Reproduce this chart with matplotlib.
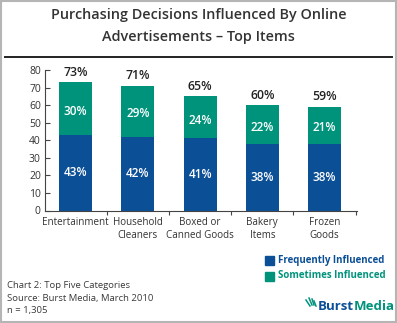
import matplotlib.pyplot as plt
from matplotlib.patches import Rectangle
from matplotlib.lines import Line2D

plt.rcParams['font.family'] = ['Open Sans', 'DejaVu Sans']

categories = ['Entertainment', 'Household\nCleaners', 'Boxed or\nCanned Goods',
              'Bakery\nItems', 'Frozen\nGoods']
frequently = [43, 42, 41, 38, 38]
sometimes = [30, 29, 24, 22, 21]
totals = [73, 71, 65, 60, 59]

blue = '#0b4f97'
teal = '#00937c'
dark = '#333333'

W, H = 397, 323
fig = plt.figure(figsize=(W / 100, H / 100), dpi=100)

# pixel helpers (origin top-left)
def fx(px):
    return px / W

def fy(py):
    return 1 - py / H

# outer frame
fig.patches.append(Rectangle((0.002, 0.003), 0.996, 0.994, transform=fig.transFigure,
                             fill=False, edgecolor='#b5b5b5', linewidth=1.5))

fig.text(0.5, fy(15), 'Purchasing Decisions Influenced By Online', ha='center', va='center',
         fontsize=10.4, fontweight='semibold', color=dark)
fig.text(0.5, fy(37), 'Advertisements \u2013 Top Items', ha='center', va='center',
         fontsize=10.4, fontweight='semibold', color=dark)
fig.add_artist(Line2D([fx(5), fx(392)], [fy(57), fy(57)], transform=fig.transFigure,
                      color='#222222', linewidth=1.4))

ax = fig.add_axes([fx(45), fy(210.5), fx(357) - fx(45), fy(70) - fy(210.5)])
x = list(range(len(categories)))
ax.bar(x, frequently, width=0.53, color=blue)
ax.bar(x, sometimes, bottom=frequently, width=0.53, color=teal)

for i in x:
    ax.text(i, frequently[i] / 2, f'{frequently[i]}%', ha='center', va='center',
            color='white', fontsize=8.5, fontweight='semibold')
    ax.text(i, frequently[i] + sometimes[i] / 2 - 1.5, f'{sometimes[i]}%', ha='center',
            va='center', color='white', fontsize=8.5, fontweight='semibold')
    ax.text(i, totals[i] + 2, f'{totals[i]}%', ha='center', va='bottom',
            color='#222222', fontsize=8.8, fontweight='semibold')

ax.set_xlim(-0.49, 4.52)
ax.set_ylim(0, 80)
ax.set_yticks(range(0, 81, 10))
ax.set_xticks([i + 0.5 for i in x])
ax.set_xticklabels([])
ax.set_xticks(x, minor=True)
ax.set_xticklabels(categories, minor=True, fontsize=7.1, color=dark, linespacing=1.2)
ax.minorticklabels = ax.get_xticklabels(minor=True)
ax.minorticklabels[0].set_x(-0.1)
ax.tick_params(axis='x', which='minor', length=0, pad=5)
ax.tick_params(axis='x', which='major', direction='out', length=3, width=0.8, color='#444444')
ax.tick_params(axis='y', direction='in', length=3.5, width=0.8, color='#444444',
               labelsize=7.5, labelcolor=dark, pad=3)
for side in ['top', 'right']:
    ax.spines[side].set_visible(False)
for side in ['left', 'bottom']:
    ax.spines[side].set_color('#444444')
    ax.spines[side].set_linewidth(0.8)

# legend
fig.patches.append(Rectangle((fx(265), fy(264.5)), fx(9), fy(256) - fy(265),
                             transform=fig.transFigure, color=blue))
fig.patches.append(Rectangle((fx(265), fy(280.5)), fx(9), fy(271) - fy(280),
                             transform=fig.transFigure, color=teal))
fig.text(fx(278), fy(260), 'Frequently Influenced', ha='left', va='center',
         fontsize=7.0, fontweight='bold', color=blue)
fig.text(fx(278), fy(276), 'Sometimes Influenced', ha='left', va='center',
         fontsize=7.0, fontweight='bold', color=teal)

# notes
for py, line in zip([286, 298, 310], ['Chart 2: Top Five Categories',
                                       'Source: Burst Media, March 2010',
                                       'n = 1,305']):
    fig.text(fx(7), fy(py), line, ha='left', va='center', fontsize=6.8, color='#3a3a3a')

# logo
burst = fig.text(fx(318), fy(307), 'Burst', ha='left', va='center', fontsize=9.5,
                 fontweight='bold', color=blue)
fig.canvas.draw()
bb = burst.get_window_extent()
fig.text(bb.x1 / fig.dpi / fig.get_figwidth(), fy(307), 'Media', ha='left', va='center',
         fontsize=9.5, fontweight='bold', color=teal)
for dx0, dy0, dx1, dy1 in [(306, 300, 310, 306), (309, 298, 312, 305), (312, 299, 314, 305),
                           (314, 301, 316, 306)]:
    fig.add_artist(Line2D([fx(dx0), fx(dx1)], [fy(dy0), fy(dy1)], transform=fig.transFigure,
                          color=teal, linewidth=1.1))

fig.savefig('out.png', dpi=100)
